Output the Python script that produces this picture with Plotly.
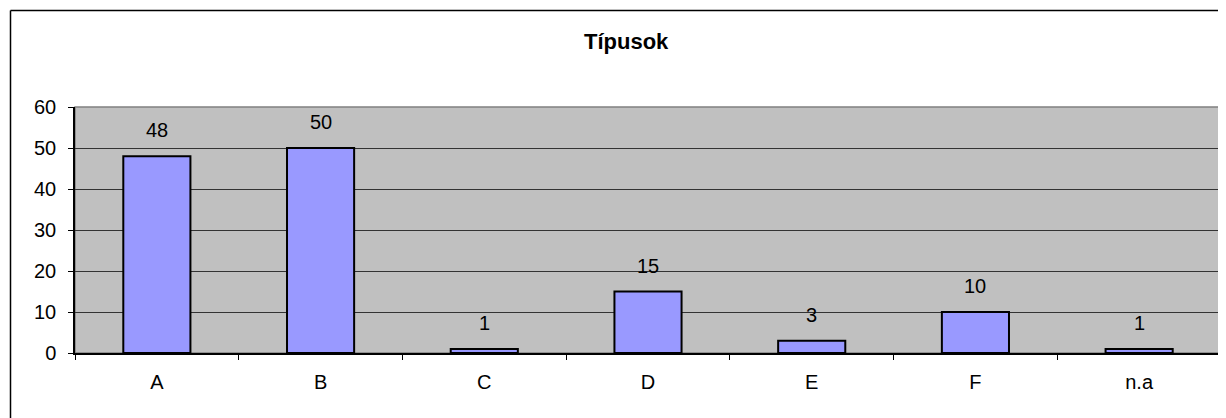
import plotly.graph_objects as go

categories = ["A", "B", "C", "D", "E", "F", "n.a"]
values = [48, 50, 1, 15, 3, 10, 1]
y_ticks = [0, 10, 20, 30, 40, 50, 60]
title_text = "Típusok"

# page has an 8px body margin, so the figure is offset by 8px
OFF = 8
W, H = 1226 - OFF, 418 - OFF
L, R, T, B = 75 - OFF, 5, 107 - OFF, 65
FONT = "Liberation Sans, Arial, sans-serif"
pw, ph = W - L - R, H - T - B

def px_x(p):
    return (p - OFF - L) / pw

def px_y(p):
    return (H - B - (p - OFF)) / ph

fig = go.Figure()
fig.add_trace(go.Bar(
    x=categories, y=values,
    marker=dict(color="#9999FF", line=dict(color="#000000", width=2)),
    hoverinfo="skip",
))

for c, v in zip(categories, values):
    fig.add_annotation(x=c, y=v, text=str(v), showarrow=False,
                       yanchor="bottom", yshift=13,
                       font=dict(family=FONT, size=20, color="#000"))

fig.add_annotation(xref="paper", yref="paper",
                   x=px_x(626), y=px_y(41),
                   text="<b>" + title_text + "</b>", showarrow=False,
                   xanchor="center", yanchor="middle",
                   font=dict(family=FONT, size=22, color="#000"))

# plot-area frame (gray)
fig.add_shape(type="rect", xref="paper", yref="paper", x0=0, x1=1, y0=0, y1=1,
              line=dict(color="#808080", width=1.5), layer="below")
# outer chart border (left and top visible)
fig.add_shape(type="line", xref="paper", yref="paper",
              x0=px_x(10.5), x1=px_x(10.5), y0=px_y(440), y1=px_y(10.5),
              line=dict(color="#000", width=1.5))
fig.add_shape(type="line", xref="paper", yref="paper",
              x0=px_x(10.5), x1=px_x(1250), y0=px_y(10.5), y1=px_y(10.5),
              line=dict(color="#000", width=1.5))

fig.update_layout(
    width=W, height=H,
    margin=dict(l=L, r=R, t=T, b=B),
    paper_bgcolor="#FFFFFF", plot_bgcolor="#C0C0C0",
    showlegend=False, bargap=0.59,
    font=dict(family=FONT, size=20, color="#000"),
)
fig.update_xaxes(
    type="category", showgrid=False, showline=True, linecolor="#000", linewidth=1.5,
    ticks="outside", tickson="boundaries", ticklen=5, tickcolor="#000",
    tickfont=dict(family=FONT, size=20, color="#000"), zeroline=False,
    ticklabelstandoff=10,
)
fig.update_yaxes(
    range=[0, 60], tickvals=y_ticks, showgrid=True, gridcolor="#333333", gridwidth=1,
    showline=True, linecolor="#000", linewidth=1.5, ticks="outside", ticklen=5,
    tickcolor="#000", tickfont=dict(family=FONT, size=20, color="#000"),
    zeroline=False, ticklabelstandoff=8,
)

fig.write_html("out.html")
